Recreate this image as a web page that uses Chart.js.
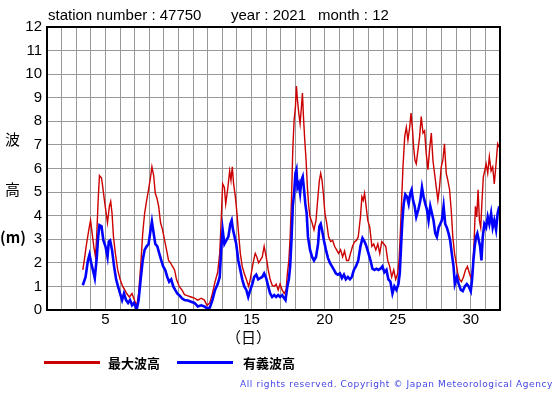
<!DOCTYPE html>
<html>
<head>
<meta charset="utf-8">
<script src="https://cdn.jsdelivr.net/npm/chart.js@4/dist/chart.umd.min.js"></script>
<style>
  body { margin: 0; background: #fff; font-family: 'Liberation Sans', Arial, sans-serif; }
  #wrap { position: relative; width: 555px; height: 395px; overflow: hidden; }
  #chart { position: absolute; left: 0; top: 0; }
  .txt { position: absolute; white-space: nowrap; color: #000; font-size: 15px; line-height: 15px; }
  .cjk { font-family: 'Noto Sans CJK JP', sans-serif; }
  .leg-line { position: absolute; height: 3px; }
  #copy { position: absolute; left: 240px; top: 379px; font-size: 9px; line-height: 11px; letter-spacing: 0.6px; color: #4444e6; white-space: nowrap; font-family: 'DejaVu Sans', sans-serif; }
</style>
</head>
<body>
<div id="wrap">
  <canvas id="chart" width="555" height="395"></canvas>
  <div class="txt" style="left:48px; top:7px;">station number : 47750</div>
  <div class="txt" style="left:231px; top:7px;">year : 2021</div>
  <div class="txt" style="left:318px; top:7px;">month : 12</div>
  <div class="txt cjk" style="left:5px; top:131px;">波</div>
  <div class="txt cjk" style="left:5px; top:181px;">高</div>
  <div class="txt cjk" style="left:0px; top:229px; font-weight:bold;">(m)</div>
  <div class="txt cjk" style="left:226px; top:329px;">（日）</div>
  <div class="leg-line" style="left:44px; top:361px; width:56px; background:#cc0000;"></div>
  <div class="txt cjk" style="left:108px; top:355px; font-size:13px; font-weight:bold;">最大波高</div>
  <div class="leg-line" style="left:177px; top:361px; width:56px; background:#0000ff;"></div>
  <div class="txt cjk" style="left:243px; top:355px; font-size:13px; font-weight:bold;">有義波高</div>
  <div id="copy">All rights reserved. Copyright © Japan Meteorological Agency</div>
</div>
<script>
// 最大波高 (max wave height), day of month vs metres
const maxDays = [3.45, 3.55, 3.68, 3.86, 3.98, 4.09, 4.2, 4.32, 4.41, 4.5, 4.59, 4.73, 4.82, 4.93, 5.05, 5.14, 5.27, 5.36, 5.45, 5.55, 5.68, 5.84, 6.0, 6.18, 6.32, 6.45, 6.64, 6.82, 6.98, 7.14, 7.27, 7.41, 7.55, 7.68, 7.82, 7.95, 8.09, 8.18, 8.3, 8.41, 8.52, 8.64, 8.77, 8.91, 9.05, 9.18, 9.32, 9.45, 9.59, 9.73, 9.86, 10.05, 10.23, 10.41, 10.64, 10.86, 11.09, 11.32, 11.55, 11.77, 11.95, 12.14, 12.32, 12.5, 12.68, 12.82, 12.93, 13.02, 13.14, 13.23, 13.36, 13.5, 13.59, 13.68, 13.77, 13.89, 14.0, 14.11, 14.23, 14.36, 14.5, 14.64, 14.8, 14.91, 15.02, 15.14, 15.25, 15.36, 15.48, 15.59, 15.73, 15.86, 16.0, 16.14, 16.27, 16.41, 16.55, 16.68, 16.82, 16.95, 17.09, 17.23, 17.36, 17.45, 17.55, 17.64, 17.73, 17.82, 17.91, 18.0, 18.07, 18.14, 18.23, 18.32, 18.41, 18.48, 18.55, 18.64, 18.73, 18.82, 18.91, 19.0, 19.14, 19.27, 19.41, 19.52, 19.64, 19.73, 19.82, 19.91, 20.02, 20.14, 20.27, 20.41, 20.55, 20.68, 20.82, 20.95, 21.09, 21.23, 21.36, 21.5, 21.64, 21.77, 21.91, 22.05, 22.18, 22.3, 22.45, 22.55, 22.64, 22.73, 22.82, 22.95, 23.09, 23.23, 23.36, 23.5, 23.64, 23.77, 23.91, 24.05, 24.18, 24.32, 24.45, 24.59, 24.73, 24.86, 25.0, 25.09, 25.18, 25.27, 25.36, 25.48, 25.59, 25.7, 25.82, 25.91, 26.0, 26.09, 26.18, 26.27, 26.39, 26.5, 26.61, 26.73, 26.84, 26.95, 27.07, 27.18, 27.3, 27.41, 27.52, 27.64, 27.75, 27.86, 27.98, 28.09, 28.2, 28.32, 28.43, 28.55, 28.66, 28.77, 28.89, 29.0, 29.11, 29.23, 29.36, 29.5, 29.64, 29.77, 29.91, 30.05, 30.14, 30.23, 30.32, 30.41, 30.5, 30.59, 30.68, 30.77, 30.86, 30.95, 31.05, 31.16, 31.27, 31.39, 31.5, 31.61, 31.73, 31.84, 31.95];
const maxHeights = [1.7, 2.1, 2.7, 3.4, 3.8, 3.25, 2.7, 2.25, 3.25, 4.65, 5.7, 5.6, 5.2, 4.65, 4.1, 3.7, 4.4, 4.6, 4.1, 3.1, 2.4, 1.7, 1.3, 1.0, 0.85, 0.7, 0.55, 0.7, 0.42, 0.15, 0.7, 1.85, 3.25, 4.1, 4.65, 5.1, 5.65, 6.07, 5.7, 4.95, 4.75, 4.4, 3.7, 3.4, 2.95, 2.55, 2.1, 2.0, 1.85, 1.7, 1.3, 1.0, 0.85, 0.65, 0.6, 0.55, 0.5, 0.42, 0.5, 0.42, 0.2, 0.3, 0.7, 1.2, 1.6, 2.4, 3.95, 5.35, 5.2, 4.5, 5.1, 5.9, 5.5, 6.07, 5.35, 4.8, 4.1, 3.25, 2.4, 1.85, 1.55, 1.3, 1.0, 1.3, 1.7, 2.1, 2.4, 2.25, 2.0, 2.1, 2.25, 2.7, 2.25, 1.7, 1.3, 1.05, 1.0, 1.1, 0.85, 1.1, 0.85, 0.7, 0.85, 1.55, 2.1, 3.1, 4.65, 6.8, 8.05, 8.6, 9.5, 8.9, 8.35, 7.9, 8.6, 9.2, 8.2, 7.2, 6.35, 5.2, 4.4, 3.95, 3.7, 3.4, 3.8, 4.65, 5.5, 5.8, 5.5, 4.95, 4.1, 3.7, 3.1, 2.9, 2.95, 2.7, 2.55, 2.4, 2.55, 2.25, 2.5, 2.1, 2.1, 2.4, 2.7, 2.9, 2.95, 3.1, 3.95, 4.8, 4.65, 4.95, 4.5, 3.8, 3.5, 2.7, 2.8, 2.55, 2.8, 2.4, 2.9, 2.8, 2.7, 2.1, 1.85, 1.4, 1.7, 1.3, 1.55, 2.1, 3.25, 4.65, 6.07, 7.35, 7.75, 7.2, 7.75, 8.35, 7.75, 6.9, 6.35, 6.2, 6.8, 7.35, 8.2, 7.5, 7.6, 6.65, 5.95, 6.8, 7.5, 6.35, 5.8, 5.2, 4.65, 5.2, 6.07, 6.35, 7.05, 5.8, 5.5, 5.1, 4.25, 3.1, 2.4, 2.0, 1.55, 1.3, 1.2, 1.4, 1.7, 1.85, 1.55, 1.3, 1.85, 2.95, 4.4, 3.95, 5.1, 3.8, 3.5, 4.65, 5.65, 5.9, 6.2, 5.8, 6.5, 5.9, 6.07, 5.35, 6.2, 7.05, 6.9];

// 有義波高 (significant wave height)
const sigDays = [3.45, 3.64, 3.8, 3.91, 4.02, 4.14, 4.27, 4.41, 4.5, 4.59, 4.73, 4.86, 5.0, 5.14, 5.23, 5.32, 5.45, 5.59, 5.73, 5.86, 6.0, 6.14, 6.27, 6.41, 6.55, 6.68, 6.82, 6.95, 7.14, 7.27, 7.41, 7.55, 7.68, 7.82, 7.95, 8.09, 8.18, 8.3, 8.41, 8.55, 8.68, 8.82, 8.95, 9.09, 9.23, 9.36, 9.5, 9.64, 9.77, 9.91, 10.05, 10.23, 10.41, 10.64, 10.86, 11.09, 11.32, 11.55, 11.77, 11.95, 12.14, 12.32, 12.5, 12.68, 12.82, 12.93, 13.02, 13.14, 13.27, 13.41, 13.55, 13.64, 13.73, 13.84, 13.95, 14.09, 14.23, 14.36, 14.5, 14.64, 14.77, 14.91, 15.05, 15.18, 15.32, 15.45, 15.59, 15.73, 15.86, 16.0, 16.14, 16.27, 16.41, 16.55, 16.68, 16.82, 16.95, 17.09, 17.23, 17.32, 17.45, 17.55, 17.64, 17.73, 17.82, 17.91, 18.0, 18.07, 18.14, 18.23, 18.32, 18.41, 18.5, 18.59, 18.68, 18.77, 18.86, 19.0, 19.14, 19.27, 19.41, 19.55, 19.64, 19.73, 19.82, 19.95, 20.09, 20.23, 20.36, 20.5, 20.64, 20.77, 20.91, 21.05, 21.18, 21.32, 21.45, 21.59, 21.73, 21.86, 22.0, 22.14, 22.3, 22.45, 22.59, 22.73, 22.86, 23.0, 23.14, 23.27, 23.41, 23.55, 23.68, 23.82, 23.95, 24.09, 24.23, 24.36, 24.5, 24.64, 24.77, 24.91, 25.05, 25.14, 25.23, 25.32, 25.41, 25.52, 25.64, 25.75, 25.86, 25.95, 26.05, 26.16, 26.27, 26.41, 26.55, 26.66, 26.77, 26.89, 27.0, 27.11, 27.23, 27.34, 27.45, 27.57, 27.68, 27.8, 27.91, 28.02, 28.14, 28.25, 28.36, 28.48, 28.59, 28.7, 28.82, 28.91, 29.05, 29.18, 29.32, 29.45, 29.59, 29.73, 29.86, 30.0, 30.09, 30.18, 30.27, 30.36, 30.45, 30.55, 30.64, 30.73, 30.82, 30.93, 31.05, 31.16, 31.27, 31.39, 31.5, 31.61, 31.73, 31.84, 31.95];
const sigHeights = [1.05, 1.4, 2.1, 2.35, 2.0, 1.7, 1.35, 2.25, 3.1, 3.6, 3.55, 2.95, 2.7, 2.25, 2.9, 2.95, 2.55, 1.85, 1.3, 1.0, 0.7, 0.42, 0.7, 0.42, 0.3, 0.42, 0.2, 0.3, 0.03, 0.42, 1.3, 2.1, 2.55, 2.7, 2.8, 3.4, 3.75, 3.25, 2.8, 2.7, 2.4, 2.1, 1.85, 1.7, 1.4, 1.2, 1.3, 1.0, 0.85, 0.7, 0.63, 0.5, 0.42, 0.4, 0.35, 0.3, 0.15, 0.2, 0.15, 0.07, 0.1, 0.42, 0.85, 1.1, 1.4, 2.7, 3.4, 2.8, 2.95, 3.1, 3.65, 3.8, 3.4, 3.1, 2.8, 2.1, 1.7, 1.3, 1.0, 0.85, 0.55, 0.85, 1.1, 1.4, 1.5, 1.3, 1.35, 1.4, 1.55, 1.35, 1.0, 0.7, 0.55, 0.63, 0.55, 0.63, 0.55, 0.63, 0.5, 0.42, 1.0, 1.3, 1.85, 2.95, 4.4, 4.95, 5.8, 5.95, 5.2, 5.35, 4.95, 5.5, 5.65, 5.1, 4.5, 4.1, 3.1, 2.55, 2.25, 2.1, 2.25, 2.8, 3.55, 3.65, 3.4, 2.95, 2.55, 2.2, 2.0, 1.85, 1.7, 1.55, 1.5, 1.55, 1.35, 1.5, 1.3, 1.4, 1.3, 1.4, 1.7, 1.85, 2.1, 2.7, 3.05, 2.9, 2.7, 2.4, 2.1, 1.75, 1.7, 1.75, 1.7, 1.75, 1.85, 1.6, 1.7, 1.3, 1.2, 0.7, 1.0, 0.85, 1.1, 1.55, 2.7, 3.8, 4.5, 4.9, 4.8, 4.5, 4.95, 5.1, 4.65, 4.4, 3.95, 4.25, 4.65, 5.2, 4.8, 4.5, 4.25, 3.8, 4.4, 4.1, 3.8, 3.25, 3.1, 3.5, 3.65, 3.8, 4.4, 3.65, 3.5, 3.25, 2.95, 2.4, 1.85, 1.1, 1.4, 1.1, 0.85, 0.8, 1.0, 1.1, 1.0, 0.8, 1.3, 2.1, 2.7, 3.1, 3.25, 2.95, 2.7, 2.1, 3.1, 3.65, 3.5, 3.95, 3.65, 4.1, 3.5, 3.8, 3.4, 4.1, 4.4];

// axis ranges / tick labels
const dayMin = 1;
const dayMax = 32;
const dayLabels = [5, 10, 15, 20, 25, 30];
const heightTicks = [0, 1, 2, 3, 4, 5, 6, 7, 8, 9, 10, 11, 12];

const toPoints = (xs, ys) => xs.map((x, i) => ({ x, y: ys[i] }));

// full box frame around the plot area
const frame = {
  id: 'frame',
  afterDraw(chart) {
    const { ctx, chartArea: a } = chart;
    ctx.save();
    ctx.strokeStyle = '#000';
    ctx.lineWidth = 2;
    ctx.strokeRect(a.left, a.top, a.right - a.left, a.bottom - a.top);
    ctx.restore();
  }
};

const tickFont = { family: "'Liberation Sans', Arial, sans-serif", size: 15 };

new Chart(document.getElementById('chart'), {
  type: 'line',
  data: {
    datasets: [
      {
        label: '有義波高',
        data: toPoints(sigDays, sigHeights),
        borderColor: '#0000ff',
        borderWidth: 2.6,
        pointRadius: 0,
        tension: 0
      },
      {
        label: '最大波高',
        data: toPoints(maxDays, maxHeights),
        borderColor: '#cc0000',
        borderWidth: 1.4,
        pointRadius: 0,
        tension: 0
      }
    ]
  },
  options: {
    responsive: false,
    animation: false,
    layout: { padding: { top: 27, right: 55, left: 0, bottom: 0 } },
    plugins: { legend: { display: false }, tooltip: { enabled: false } },
    scales: {
      x: {
        type: 'linear',
        min: dayMin,
        max: dayMax,
        afterFit: (s) => { s.height = 85; },
        afterBuildTicks: (s) => {
          s.ticks = [];
          for (let d = dayMin; d <= dayMax; d++) s.ticks.push({ value: d });
        },
        ticks: {
          autoSkip: false,
          maxRotation: 0,
          padding: 1,
          color: '#000',
          font: tickFont,
          callback: (v) => dayLabels.includes(v) ? String(v) : ''
        },
        grid: { color: '#999', lineWidth: 1, drawTicks: false },
        border: { color: '#000', width: 2 }
      },
      y: {
        min: 0,
        max: 12,
        afterFit: (s) => { s.width = 47; },
        afterBuildTicks: (s) => { s.ticks = heightTicks.map(v => ({ value: v })); },
        ticks: { padding: 5, color: '#000', font: tickFont },
        grid: { color: '#999', lineWidth: 1, drawTicks: false },
        border: { color: '#000', width: 2 }
      }
    }
  },
  plugins: [frame]
});
</script>
</body>
</html>
